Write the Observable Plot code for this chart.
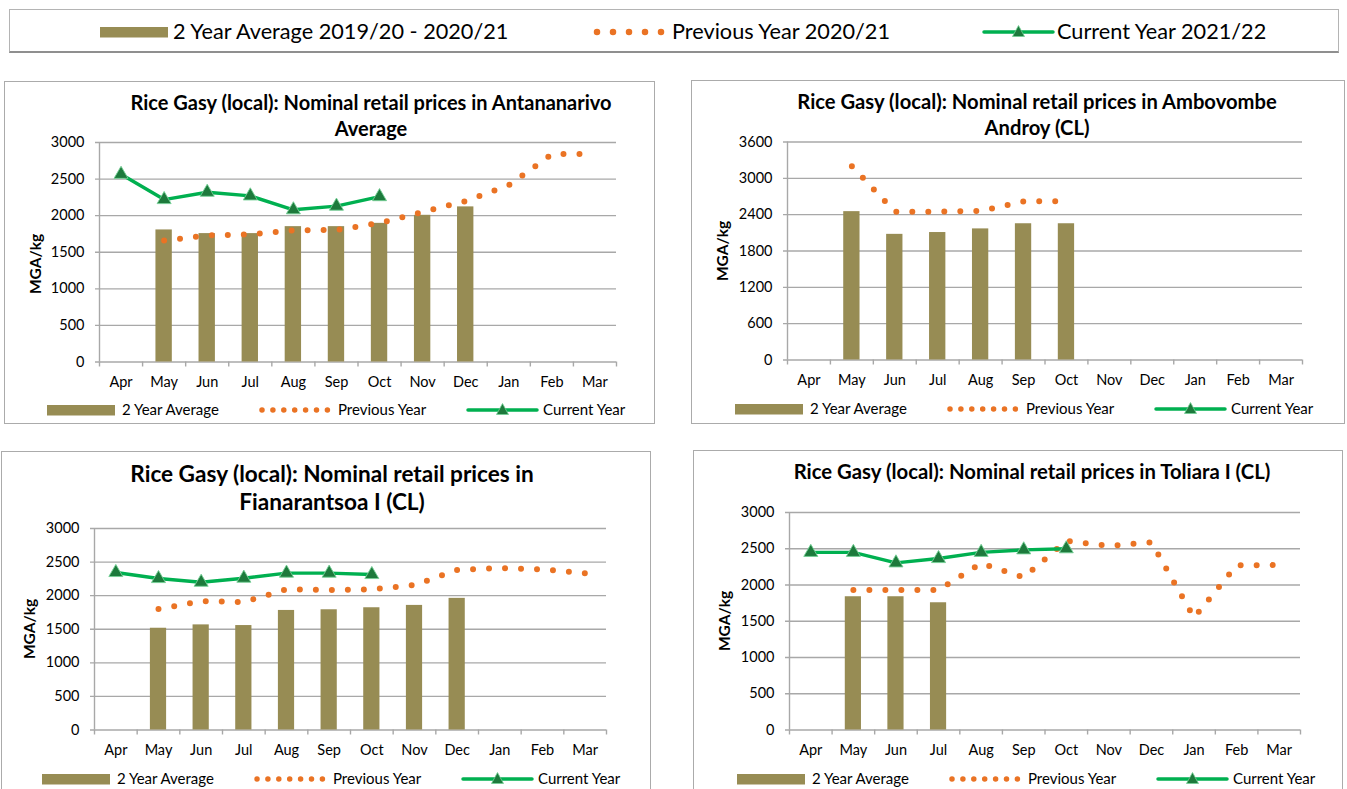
<!DOCTYPE html>
<html><head><meta charset="utf-8">
<script src="https://cdn.jsdelivr.net/npm/d3@7"></script>
<script src="https://cdn.jsdelivr.net/npm/@observablehq/plot@0.6"></script>
<style>
body{margin:0;background:#fff;font-family:Lato,"Open Sans",sans-serif;color:#000}
#root{position:relative;width:1347px;height:789px;overflow:hidden;background:#fff}
.box{position:absolute;border:1.5px solid #ababab;box-sizing:border-box;background:#fff}
.abs{position:absolute;white-space:nowrap;line-height:1}
.title{font-weight:bold;transform:translate(-50%,-50%)}
.ytitle{font-weight:bold;font-size:15.5px;transform:translate(-50%,-50%) rotate(-90deg)}
.leg{transform:translateY(-50%)}
svg.sw{position:absolute;overflow:visible}
</style></head><body><div id="root"></div>
<script>
// ---------- data ----------
const months = ["Apr","May","Jun","Jul","Aug","Sep","Oct","Nov","Dec","Jan","Feb","Mar"];

const antaTitle = ["Rice Gasy (local): Nominal retail prices in Antananarivo", "Average"];
const antaAvg  = [null,1805,1755,1755,1850,1850,1895,2005,2120,null,null,null];
const antaPrev = [null,1660,1730,1745,1800,1805,1900,2050,2200,2415,2840,2845];
const antaCurr = [2565,2220,2320,2270,2080,2130,2260,null,null,null,null,null];
const antaTicks = [0,500,1000,1500,2000,2500,3000];

const amboTitle = ["Rice Gasy (local): Nominal retail prices in Ambovombe", "Androy (CL)"];
const amboAvg  = [null,2450,2075,2105,2165,2250,2250,null,null,null,null,null];
const amboPrev = [null,3200,2450,2450,2460,2620,2620,null,null,null,null,null];
const amboCurr = [null,null,null,null,null,null,null,null,null,null,null,null];
const amboTicks = [0,600,1200,1800,2400,3000,3600];

const fianTitle = ["Rice Gasy (local): Nominal retail prices in", "Fianarantsoa I (CL)"];
const fianAvg  = [null,1515,1565,1555,1780,1790,1820,1855,1960,null,null,null];
const fianPrev = [null,1800,1920,1905,2095,2085,2095,2158,2382,2412,2392,2332];
const fianCurr = [2345,2255,2200,2260,2335,2335,2315,null,null,null,null,null];
const fianTicks = [0,500,1000,1500,2000,2500,3000];

const toliTitle = ["Rice Gasy (local): Nominal retail prices in Toliara I (CL)"];
const toliAvg  = [null,1838,1838,1755,null,null,null,null,null,null,null,null];
const toliPrev = [null,1930,1930,1930,2300,2105,2608,2540,2588,1550,2272,2275];
const toliCurr = [2450,2450,2305,2365,2450,2485,2500,null,null,null,null,null];
const toliTicks = [0,500,1000,1500,2000,2500,3000];

const yTitle = "MGA/kg";
const legendSmall = ["2 Year Average", "Previous Year", "Current Year"];
const legendTop = ["2 Year Average 2019/20 - 2020/21", "Previous Year 2020/21", "Current Year 2021/22"];

// ---------- styles ----------
const C = {bar:"#978c54", prev:"#ea7324", curr:"#00b050", tri:"#1d7a3c", triEdge:"#74cf95", grid:"#a8a8a8"};
const root = document.getElementById("root");

function el(cls, x, y, html, style = {}) {
  const d = document.createElement("div");
  d.className = "abs " + cls;
  d.style.left = x + "px"; d.style.top = y + "px";
  Object.assign(d.style, style);
  d.textContent = html;
  root.appendChild(d);
  return d;
}
const NS = "http://www.w3.org/2000/svg";
function swatch(kind, x, y, w, dotGap, dotW = 5.5) {
  const s = document.createElementNS(NS, "svg");
  s.setAttribute("class", "sw");
  s.setAttribute("width", w); s.setAttribute("height", 16);
  s.style.left = x + "px"; s.style.top = (y - 8) + "px";
  if (kind === "bar") {
    s.innerHTML = `<rect x="0" y="3" width="${w}" height="10.5" fill="${C.bar}"/>`;
  } else if (kind === "prev") {
    s.innerHTML = `<line x1="3" y1="8" x2="${w}" y2="8" stroke="${C.prev}" stroke-width="${dotW}" stroke-linecap="round" stroke-dasharray="0,${dotGap}"/>`;
  } else {
    const m = w / 2;
    s.innerHTML = `<line x1="0" y1="8" x2="${w}" y2="8" stroke="${C.curr}" stroke-width="3.5" stroke-linecap="round"/>` +
      `<path d="M${m},1.5 L${m+6},12.5 L${m-6},12.5 Z" fill="${C.tri}" stroke="${C.triEdge}" stroke-width="0.8"/>`;
  }
  root.appendChild(s);
}

// ---------- top legend ----------
const legBox = document.createElement("div");
legBox.className = "box";
Object.assign(legBox.style, {left:"9px", top:"9px", width:"1330px", height:"44px", borderColor:"#b4b4b4", borderBottomColor:"#8f8f8f", borderWidth:"1.5px 1.5px 2px 1.5px"});
root.appendChild(legBox);
swatch("bar", 100, 32, 68);
el("leg", 173, 31.5, legendTop[0], {fontSize:"21.7px"});
swatch("prev", 594, 32, 70, 16, 6.5);
el("leg", 672, 31.5, legendTop[1], {fontSize:"21.7px"});
swatch("curr", 984, 32, 69);
el("leg", 1057, 31.5, legendTop[2], {fontSize:"21.7px"});

// ---------- panels ----------
function panel(cfg) {
  const {box, plot, ticks, title, titleX, titleYs, titleSize, yT, legY, avg, prev, curr} = cfg;
  const b = document.createElement("div");
  b.className = "box";
  Object.assign(b.style, {left: box.x + "px", top: box.y + "px", width: box.w + "px", height: box.h + "px"});
  root.appendChild(b);

  title.forEach((t, i) => el("title", titleX, titleYs[i], t, {fontSize: titleSize + "px"}));
  el("ytitle", yT[0], yT[1], yTitle);

  const yMax = ticks[ticks.length - 1];
  const step = (plot.r - plot.l) / months.length;
  const rows = months.map((m, i) => ({month: m, avg: avg[i], prev: prev[i], curr: curr[i]}));
  const H = plot.b - box.y + 36;
  const chart = Plot.plot({
    width: box.w, height: H,
    marginLeft: plot.l - box.x, marginRight: box.x + box.w - plot.r,
    marginTop: plot.t - box.y, marginBottom: H - (plot.b - box.y),
    x: {type: "band", domain: months, paddingInner: 0.62, paddingOuter: 0.31, round: false},
    y: {domain: [0, yMax]},
    style: {fontFamily: "Lato, 'Open Sans', sans-serif", fontSize: "14.5px", background: "transparent", overflow: "visible", color: "#000"},
    marks: [
      Plot.ruleY(ticks, {stroke: C.grid, strokeWidth: 1.4, insetLeft: -4}),
      Plot.ruleX([months[0]], {x: d => d, y1: 0, y2: yMax, dx: -step / 2, stroke: C.grid, strokeWidth: 1.4}),
      Plot.ruleX(months, {x: d => d, y1: 0, y2: 0, insetBottom: -5, dx: -step / 2, stroke: C.grid, strokeWidth: 1.4}),
      Plot.ruleX([months[months.length - 1]], {x: d => d, y1: 0, y2: 0, insetBottom: -5, dx: step / 2, stroke: C.grid, strokeWidth: 1.4}),
      Plot.barY(rows.filter(d => d.avg != null), {x: "month", y: "avg", fill: C.bar}),
      Plot.line(rows.filter(d => d.prev != null), {x: "month", y: "prev", stroke: C.prev, strokeWidth: 6, strokeDasharray: "0,16", strokeLinecap: "round"}),
      Plot.line(rows.filter(d => d.curr != null), {x: "month", y: "curr", stroke: C.curr, strokeWidth: 3.4, strokeLinejoin: "round"}),
      Plot.dot(rows.filter(d => d.curr != null), {x: "month", y: "curr", symbol: "triangle", r: 5.2, fill: C.tri, stroke: C.triEdge, strokeWidth: 0.9}),
      Plot.axisX({tickSize: 0, tickPadding: 14.5, label: null}),
      Plot.axisY({ticks: ticks, tickSize: 0, tickPadding: 15, tickFormat: "d", label: null})
    ]
  });
  chart.style.position = "absolute";
  chart.style.left = box.x + "px";
  chart.style.top = box.y + "px";
  root.appendChild(chart);

  // legend
  const L = plot.l;
  swatch("bar", L - 52, legY + 1, 68);
  el("leg", L + 23, legY, legendSmall[0], {fontSize: "15px"});
  swatch("prev", L + 160, legY + 1, 70, 10.9);
  el("leg", L + 239, legY, legendSmall[1], {fontSize: "15px"});
  swatch("curr", L + 369, legY + 1, 69);
  el("leg", L + 444, legY, legendSmall[2], {fontSize: "15px"});
}

panel({box: {x: 4, y: 81, w: 651, h: 343}, plot: {l: 99, r: 616, t: 142, b: 361.5}, ticks: antaTicks,
  title: antaTitle, titleX: 371, titleYs: [102, 127.5], titleSize: 20, yT: [35.5, 264], legY: 409,
  avg: antaAvg, prev: antaPrev, curr: antaCurr});
panel({box: {x: 691, y: 80, w: 654, h: 344}, plot: {l: 787, r: 1302, t: 141.5, b: 359.5}, ticks: amboTicks,
  title: amboTitle, titleX: 1037, titleYs: [101, 126.5], titleSize: 20.2, yT: [723, 250.5], legY: 408,
  avg: amboAvg, prev: amboPrev, curr: amboCurr});
panel({box: {x: 1, y: 451, w: 650, h: 345}, plot: {l: 94, r: 606, t: 528, b: 729.5}, ticks: fianTicks,
  title: fianTitle, titleX: 332, titleYs: [474, 502], titleSize: 22.6, yT: [30, 629], legY: 777.5,
  avg: fianAvg, prev: fianPrev, curr: fianCurr});
panel({box: {x: 693, y: 450, w: 650, h: 345}, plot: {l: 789, r: 1300, t: 512, b: 729.5}, ticks: toliTicks,
  title: toliTitle, titleX: 1032, titleYs: [471], titleSize: 20.3, yT: [725, 621], legY: 778,
  avg: toliAvg, prev: toliPrev, curr: toliCurr});
</script></body></html>
